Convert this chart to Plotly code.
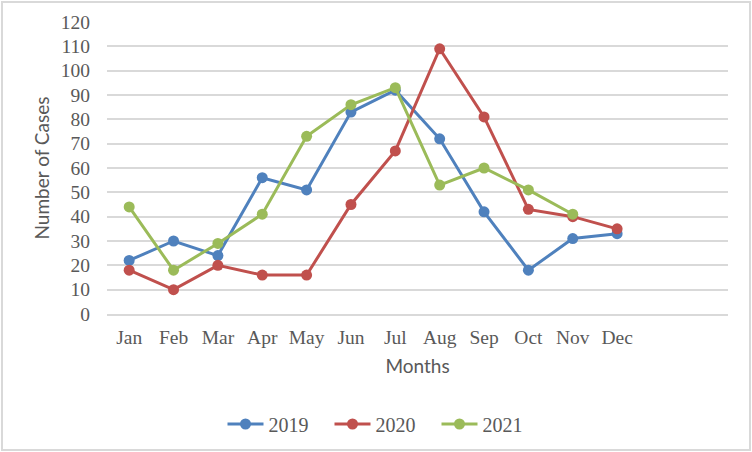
import plotly.graph_objects as go

months = ["Jan", "Feb", "Mar", "Apr", "May", "Jun", "Jul", "Aug", "Sep", "Oct", "Nov", "Dec"]
cases_2019 = [22, 30, 24, 56, 51, 83, 92, 72, 42, 18, 31, 33]
cases_2020 = [18, 10, 20, 16, 16, 45, 67, 109, 81, 43, 40, 35]
cases_2021 = [44, 18, 29, 41, 73, 86, 93, 53, 60, 51, 41, None]
series_names = ["2019", "2020", "2021"]
colors = ["#4F81BD", "#C0504D", "#9BBB59"]
y_ticks = list(range(0, 121, 10))

W, H = 752, 452
L, R, T, B = 107, 24, 22, 138
pw, ph = W - L - R, H - T - B

fig = go.Figure()
for name, vals, col in zip(series_names, [cases_2019, cases_2020, cases_2021], colors):
    fig.add_trace(go.Scatter(
        x=months, y=vals, name=name, mode="lines+markers",
        line=dict(color=col, width=3),
        marker=dict(color=col, size=11),
        connectgaps=False,
    ))

serif = "Liberation Serif"
sans = "Lato"
gray = "#595959"

fig.update_layout(
    width=W, height=H,
    margin=dict(l=L, r=R, t=T, b=B, autoexpand=False),
    paper_bgcolor="white", plot_bgcolor="white",
    font=dict(family=serif, size=19.5, color=gray),
    showlegend=True,
    legend=dict(orientation="h", x=(W / 2 + 7 - L) / pw, xanchor="center", y=(T + ph - 424) / ph, yanchor="middle",
                font=dict(family=serif, size=20, color=gray), itemwidth=36, traceorder="normal",
                entrywidth=56, entrywidthmode="pixels"),
    xaxis=dict(
        type="category", categoryorder="array", categoryarray=months,
        range=[-0.5, 13.5], showgrid=False, zeroline=False,
        showline=True, linecolor="#D9D9D9", linewidth=1.5,
        ticks="", tickfont=dict(family=serif, size=19.5, color=gray),
        ticklabelstandoff=5,
        title=dict(text="Months", font=dict(family=sans, size=19, color=gray), standoff=13),
    ),
    yaxis=dict(
        range=[0, 120], tickvals=y_ticks, showgrid=True, gridcolor="#D9D9D9", gridwidth=1.5,
        zeroline=False, showline=False, ticks="",
        tickfont=dict(family=serif, size=19.5, color=gray), ticklabelstandoff=16,
        title=dict(text="Number of Cases", font=dict(family=sans, size=19, color=gray), standoff=6),
    ),
    shapes=[dict(type="rect", xref="paper", yref="paper",
                 x0=(2 - L) / pw, x1=(W - 2 - L) / pw,
                 y0=(T + ph - (H - 2)) / ph, y1=(T + ph - 2) / ph,
                 line=dict(color="#D9D9D9", width=2), fillcolor="rgba(0,0,0,0)", layer="below")],
)

fig.write_html("out.html")
